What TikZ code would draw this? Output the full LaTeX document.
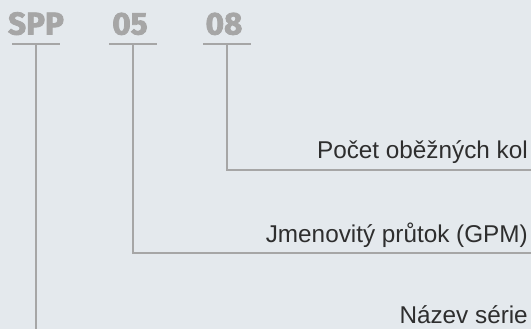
\documentclass[tikz,border=0pt]{standalone}
\usepackage{fontspec}
\setmainfont{Liberation Sans}
\newfontfamily\codefont[FakeBold=2.5]{Fira Sans Bold}
\usetikzlibrary{positioning,calc}
\definecolor{bgcol}{HTML}{E4E9ED}
\definecolor{linecol}{HTML}{A6A6A6}
\definecolor{textcol}{HTML}{2E2E2E}

\tikzset{
  code/.style={text=linecol, font=\codefont\fontsize{31.5}{31.5}\selectfont, anchor=base, inner sep=0pt},
  desc/.style={text=textcol, font=\fontsize{24.3}{24.3}\selectfont, anchor=base east, inner sep=0pt},
  tick/.style={draw=linecol, line width=2pt},
  conn/.style={draw=linecol, line width=2pt}
}

\begin{document}
\begin{tikzpicture}[x=1pt,y=-1pt]

\fill[bgcol] (0,0) rectangle (531,329);
\useasboundingbox (0,0) rectangle (531,329);

% codes
\node[code] (spp)    at (36,34.5)  {SPP};
\node[code] (flow)   at (130,34.5) {05};
\node[code] (stages) at (224,34.5) {08};

\coordinate (sppT)    at (36,44.5);
\coordinate (flowT)   at (133,44.5);
\coordinate (stagesT) at (227,44.5);

\draw[tick] ($(sppT)+(-24,0)$) -- ($(sppT)+(24,0)$);
\draw[tick] ($(flowT)+(-24,0)$) -- ($(flowT)+(24,0)$);
\draw[tick] ($(stagesT)+(-24,0)$) -- ($(stagesT)+(24,0)$);

% descriptions
\node[desc] (lstages) at (528,158) {Počet oběžných kol};
\node[desc] (lflow)   at (528,242) {Jmenovitý průtok (GPM)};
\node[desc] (lseries) at (528,323) {Název série};

\coordinate (stagesE) at (531,170.5);
\coordinate (flowE)   at (531,252.5);
\coordinate (sppE)    at (36,329);

\draw[conn] (stagesT) |- (stagesE);
\draw[conn] (flowT) |- (flowE);
\draw[conn] (sppT) -- (sppE);

\end{tikzpicture}
\end{document}
